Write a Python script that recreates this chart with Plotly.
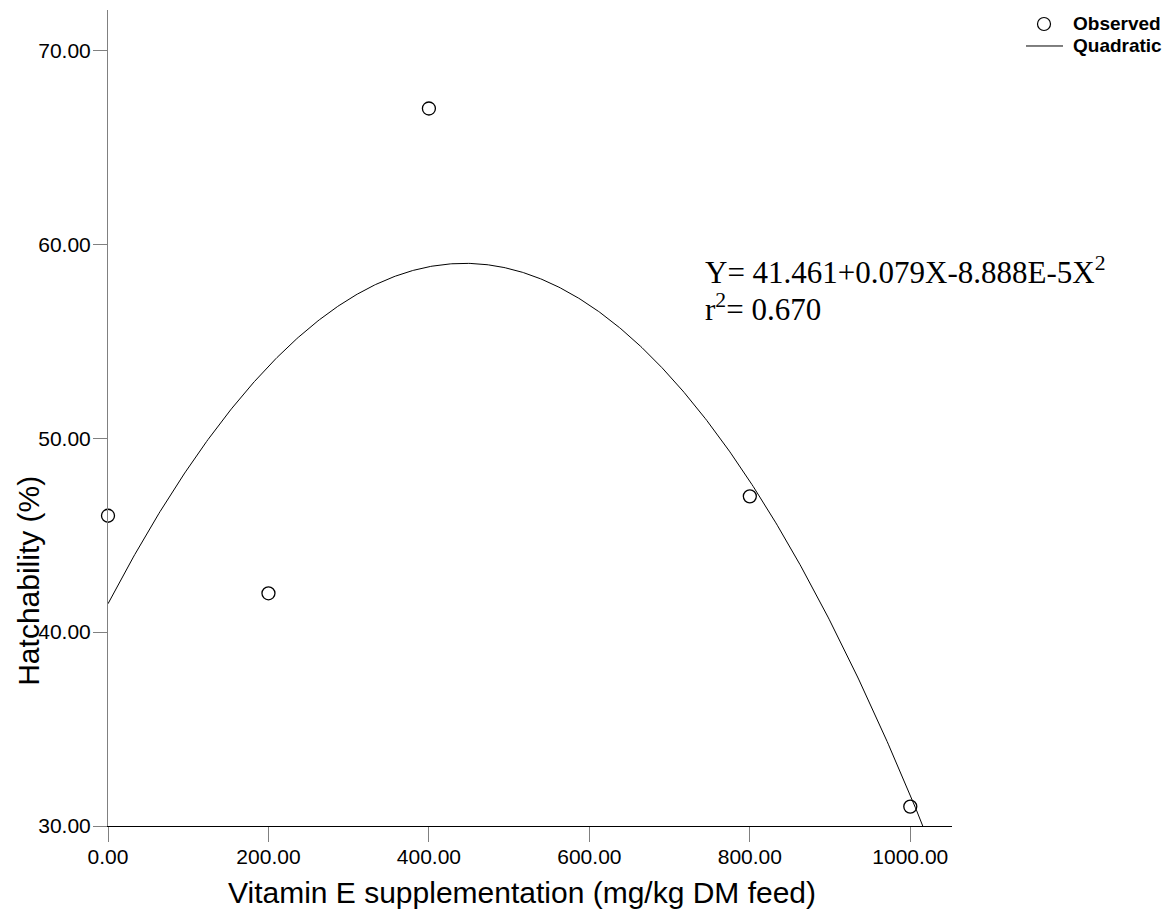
import numpy as np
import plotly.graph_objects as go

# Observed hatchability at each vitamin E level
vitamin_e = [0, 200, 400, 800, 1000]
hatchability = [46, 42, 67, 47, 31]

# Fitted quadratic: Y = b0 + b1*X + b2*X^2
b0, b1, b2 = 41.461, 0.079, -8.888e-5
r_squared = 0.670

x_ticks = [0, 200, 400, 600, 800, 1000]
y_ticks = [30, 40, 50, 60, 70]

x_fit = np.linspace(0, 1052, 600)
y_fit = b0 + b1 * x_fit + b2 * x_fit ** 2

SANS = "Arial, Liberation Sans, sans-serif"
SERIF = "Times New Roman, Liberation Serif, serif"

# Plot-area geometry in pixels, used to place margin decorations
PLOT_L, PLOT_R, PLOT_T, PLOT_B = 108, 952, 10, 826.3


def px_x(px):
    return (px - PLOT_L) / (PLOT_R - PLOT_L)


def px_y(py):
    return (PLOT_B - py) / (PLOT_B - PLOT_T)


fig = go.Figure()
fig.add_trace(go.Scatter(
    x=vitamin_e, y=hatchability, mode="markers", name="Observed",
    marker=dict(symbol="circle-open", size=13, color="black",
                line=dict(color="black", width=1.3)),
    cliponaxis=False,
))
fig.add_trace(go.Scatter(
    x=x_fit, y=y_fit, mode="lines", name="Quadratic",
    line=dict(color="black", width=1),
))

fig.update_layout(
    width=1172, height=924,
    margin=dict(l=108, r=220, t=10, b=98),
    plot_bgcolor="white", paper_bgcolor="white",
    showlegend=False,
    font=dict(family=SANS, color="black"),
)

fig.update_xaxes(
    range=[0, 1052], tickvals=x_ticks, tickformat=".2f",
    showgrid=False, zeroline=False,
    showline=True, linecolor="black", linewidth=1,
    ticks="outside", ticklen=15, tickcolor="#808080", tickwidth=1,
    ticklabelstandoff=-3,
    tickfont=dict(family=SANS, size=21, color="black"),
)
fig.update_yaxes(
    range=[30, 72.08], tickvals=y_ticks, tickformat=".2f",
    showgrid=False, zeroline=False,
    showline=True, linecolor="#808080", linewidth=1,
    ticks="outside", ticklen=14, tickcolor="#808080", tickwidth=1,
    ticklabelstandoff=-2,
    tickfont=dict(family=SANS, size=21, color="black"),
)

# Legend, drawn in the right margin
LEG_ROW1, LEG_ROW2 = 24, 46
fig.add_shape(
    type="circle", xref="paper", yref="paper",
    xsizemode="pixel", ysizemode="pixel",
    xanchor=px_x(1044), yanchor=px_y(LEG_ROW1),
    x0=-6.5, x1=6.5, y0=-6.5, y1=6.5,
    line=dict(color="black", width=1.2),
)
fig.add_shape(
    type="line", xref="paper", yref="paper",
    x0=px_x(1026), x1=px_x(1063), y0=px_y(LEG_ROW2), y1=px_y(LEG_ROW2),
    line=dict(color="black", width=1),
)
for label, py in [("Observed", LEG_ROW1), ("Quadratic", LEG_ROW2)]:
    fig.add_annotation(
        text=f"<b>{label}</b>", xref="paper", yref="paper",
        x=px_x(1072), y=px_y(py), xanchor="left", yanchor="middle",
        showarrow=False, borderpad=0,
        font=dict(family=SANS, size=19, color="black"),
    )

# Axis titles
fig.add_annotation(
    text="Vitamin E supplementation (mg/kg DM feed)",
    xref="paper", yref="paper", x=px_x(522), y=px_y(893),
    xanchor="center", yanchor="middle", showarrow=False,
    font=dict(family=SANS, size=30, color="black"),
)
fig.add_annotation(
    text="Hatchability (%)",
    xref="paper", yref="paper", x=px_x(29), y=px_y(581),
    xanchor="center", yanchor="middle", textangle=-90, showarrow=False,
    font=dict(family=SANS, size=30, color="black"),
)

# Regression equation and fit statistic
fig.add_annotation(
    text=f"Y= {b0:.3f}+{b1:.3f}X{b2 * 1e5:.3f}E-5X<sup>2</sup>",
    xref="paper", yref="paper", x=px_x(703), y=px_y(271),
    xanchor="left", yanchor="middle", showarrow=False,
    font=dict(family=SERIF, size=31, color="black"),
)
fig.add_annotation(
    text=f"r<sup>2</sup>= {r_squared:.3f}",
    xref="paper", yref="paper", x=px_x(703), y=px_y(308),
    xanchor="left", yanchor="middle", showarrow=False,
    font=dict(family=SERIF, size=31, color="black"),
)

fig.write_html("out.html")
